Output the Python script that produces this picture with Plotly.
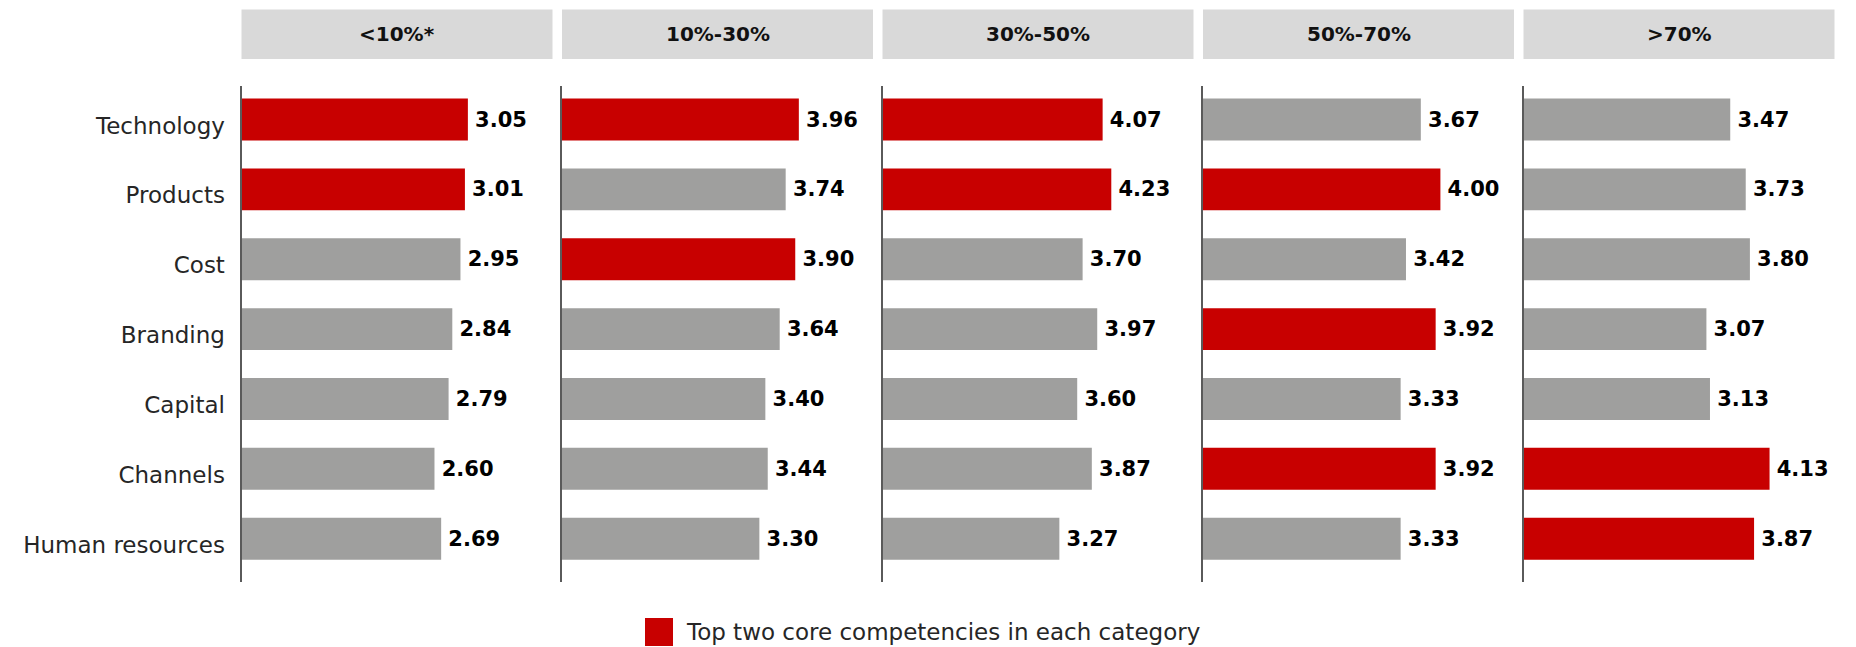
import plotly.graph_objects as go

# Competency scores by share band
categories = ["Technology", "Products", "Cost", "Branding", "Capital", "Channels", "Human resources"]
bands = ["<10%*", "10%-30%", "30%-50%", "50%-70%", ">70%"]
scores_lt10 = [3.05, 3.01, 2.95, 2.84, 2.79, 2.60, 2.69]
scores_10_30 = [3.96, 3.74, 3.90, 3.64, 3.40, 3.44, 3.30]
scores_30_50 = [4.07, 4.23, 3.70, 3.97, 3.60, 3.87, 3.27]
scores_50_70 = [3.67, 4.00, 3.42, 3.92, 3.33, 3.92, 3.33]
scores_gt70 = [3.47, 3.73, 3.80, 3.07, 3.13, 4.13, 3.87]
legend_label = "Top two core competencies in each category"

panels = [scores_lt10, scores_10_30, scores_30_50, scores_50_70, scores_gt70]
x_max = [4.19, 5.2, 5.75, 5.24, 5.22]

W, H = 1856, 647
RED = "#C80000"
GREY = "#9F9F9E"
HEAD = "#D9D9D9"
FONT = "DejaVu Sans"

panel_left = 241.5
panel_w = 311.0
panel_step = 320.5
plot_top, plot_bot = 86.0, 582.0
head_top, head_bot = 9.5, 59.0


def px_x(v):
    return v / W


def px_y(v):
    return 1 - v / H


fig = go.Figure()
shapes = []
annotations = []

for i, (band, vals) in enumerate(zip(bands, panels)):
    second = sorted(vals, reverse=True)[1]
    colors = [RED if v >= second else GREY for v in vals]
    xa = "x" if i == 0 else f"x{i + 1}"
    ya = "y" if i == 0 else f"y{i + 1}"
    fig.add_trace(go.Bar(
        x=vals, y=categories, orientation="h",
        marker=dict(color=colors, line=dict(width=0)),
        text=[f"\u2009{v:.2f}" for v in vals], textposition="outside",
        textfont=dict(family=FONT, size=21, color="#000000", weight="bold"),
        cliponaxis=False, xaxis=xa, yaxis=ya, showlegend=False,
        hoverinfo="skip",
    ))
    x0 = panel_left + i * panel_step
    x1 = x0 + panel_w
    dom = [px_x(x0), px_x(x1)]
    xkey = "xaxis" if i == 0 else f"xaxis{i + 1}"
    ykey = "yaxis" if i == 0 else f"yaxis{i + 1}"
    fig.layout[xkey] = dict(
        domain=dom, range=[0, x_max[i]], visible=False, anchor=ya, fixedrange=True,
    )
    fig.layout[ykey] = dict(
        domain=[px_y(plot_bot), px_y(plot_top)], anchor=xa,
        range=[6.62, -0.48], showline=True, linecolor="#5A5A5A", linewidth=2,
        showgrid=False, zeroline=False, ticks="",
        showticklabels=(i == 0), ticklabelstandoff=10, ticklabelshift=-6,
        tickfont=dict(family=FONT, size=23, color="#262626"),
        fixedrange=True,
    )
    shapes.append(dict(
        type="rect", xref="paper", yref="paper",
        x0=px_x(x0), x1=px_x(x1), y0=px_y(head_bot), y1=px_y(head_top),
        fillcolor=HEAD, line=dict(width=0), layer="below",
    ))
    annotations.append(dict(
        xref="paper", yref="paper", x=px_x((x0 + x1) / 2), y=px_y((head_top + head_bot) / 2),
        text=f"<b>{band}</b>", showarrow=False, xanchor="center", yanchor="middle",
        font=dict(family=FONT, size=20, color="#111111"),
    ))

# legend swatch and label
shapes.append(dict(
    type="rect", xref="paper", yref="paper",
    x0=px_x(645), x1=px_x(673), y0=px_y(646), y1=px_y(618),
    fillcolor=RED, line=dict(width=0),
))
annotations.append(dict(
    xref="paper", yref="paper", x=px_x(684), y=px_y(632),
    text=legend_label, showarrow=False, xanchor="left", yanchor="middle",
    font=dict(family=FONT, size=23, color="#262626"),
))

fig.update_layout(
    width=W, height=H,
    margin=dict(l=0, r=0, t=0, b=0),
    paper_bgcolor="white", plot_bgcolor="white",
    bargap=0.4,
    shapes=shapes, annotations=annotations,
    font=dict(family=FONT),
)

fig.write_html("out.html")
